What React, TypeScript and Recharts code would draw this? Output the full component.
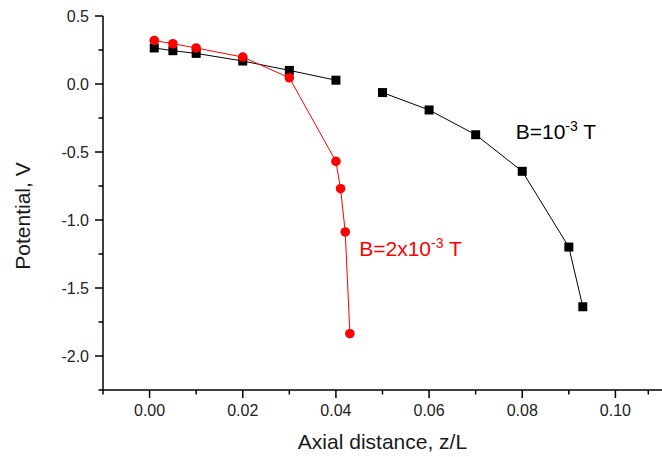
import { LineChart, Line, XAxis, YAxis, ReferenceDot } from 'recharts'

// B = 1e-3 T, split in two runs (no line between 0.04 and 0.05)
const blackNearZ = [0.001, 0.005, 0.01, 0.02, 0.03, 0.04]
const blackNearV = [0.265, 0.245, 0.225, 0.169, 0.1, 0.028]
const blackFarZ = [0.05, 0.06, 0.07, 0.08, 0.09, 0.093]
const blackFarV = [-0.063, -0.191, -0.373, -0.642, -1.199, -1.638]

// B = 2e-3 T
const redZ = [0.001, 0.005, 0.01, 0.02, 0.03, 0.04, 0.041, 0.042, 0.043]
const redV = [0.32, 0.296, 0.265, 0.198, 0.046, -0.569, -0.77, -1.088, -1.836]

const xTicks = [-0.01, 0, 0.01, 0.02, 0.03, 0.04, 0.05, 0.06, 0.07, 0.08, 0.09, 0.1, 0.11]
const yTicks = [-2.25, -2, -1.75, -1.5, -1.25, -1, -0.75, -0.5, -0.25, 0, 0.25, 0.5]

const FONT = 'Arial, "Liberation Sans", sans-serif'

const pairs = (z: number[], v: number[]) => z.map((x, i) => ({ z: x, v: v[i] }))

function XTick({ x, y, payload }: any) {
  const major = Math.round(payload.value * 100) % 2 === 0
  return (
    <g>
      <line x1={x} y1={y} x2={x} y2={y + (major ? 8 : 4.5)} stroke="#000" strokeWidth={1.5} />
      {major && (
        <text x={x} y={y + 26} textAnchor="middle" fontSize={16} fontFamily={FONT} fill="#222">
          {payload.value.toFixed(2)}
        </text>
      )}
    </g>
  )
}

function YTick({ x, y, payload }: any) {
  const major = Math.round(payload.value * 4) % 2 === 0
  return (
    <g>
      <line x1={x} y1={y} x2={x - (major ? 8 : 4.5)} y2={y} stroke="#000" strokeWidth={1.5} />
      {major && (
        <text x={x - 14} y={y + 5.5} textAnchor="end" fontSize={16} fontFamily={FONT} fill="#222">
          {payload.value.toFixed(1)}
        </text>
      )}
    </g>
  )
}

function Square({ cx, cy, index }: any) {
  return <rect key={index} x={cx - 4.5} y={cy - 4.5} width={9} height={9} fill="#000" />
}

export default function App() {
  return (
    <div style={{ position: 'absolute', left: 0, top: 0, background: '#fff' }}>
      <LineChart width={662} height={457} margin={{ top: 16, right: 0, bottom: 0, left: 0 }}>
        <XAxis
          type="number"
          dataKey="z"
          domain={[-0.01, 0.11]}
          ticks={xTicks}
          allowDataOverflow
          height={67}
          tickSize={0}
          tickMargin={0}
          tickLine={false}
          tick={<XTick />}
          axisLine={{ stroke: '#000', strokeWidth: 1.5 }}
          label={{
            content: ({ viewBox }: any) => (
              <text x={viewBox.x + viewBox.width / 2} y={viewBox.y + 59} textAnchor="middle" fontSize={21} fontFamily={FONT} fill="#1a1a1a">
                Axial distance, z/L
              </text>
            ),
          }}
        />
        <YAxis
          type="number"
          dataKey="v"
          domain={[-2.25, 0.5]}
          ticks={yTicks}
          allowDataOverflow
          width={103}
          tickSize={0}
          tickMargin={0}
          tickLine={false}
          tick={<YTick />}
          axisLine={{ stroke: '#000', strokeWidth: 1.5 }}
          label={{
            content: ({ viewBox }: any) => {
              const cx = viewBox.x + 30
              const cy = viewBox.y + viewBox.height / 2 + 13
              return (
                <text transform={`translate(${cx},${cy}) rotate(-90)`} textAnchor="middle" fontSize={21} fontFamily={FONT} fill="#1a1a1a">
                  Potential, V
                </text>
              )
            },
          }}
        />
        <Line data={pairs(blackNearZ, blackNearV)} dataKey="v" stroke="#000" strokeWidth={1} dot={<Square />} isAnimationActive={false} />
        <Line data={pairs(blackFarZ, blackFarV)} dataKey="v" stroke="#000" strokeWidth={1} dot={<Square />} isAnimationActive={false} />
        <Line
          data={pairs(redZ, redV)}
          dataKey="v"
          stroke="#ff0000"
          strokeWidth={1}
          dot={{ r: 4.8, fill: '#ff0000', stroke: 'none' }}
          isAnimationActive={false}
        />
        <ReferenceDot
          x={0.0786}
          y={-0.402}
          r={0}
          shape={({ cx, cy }: any) => (
            <text x={cx} y={cy} fontSize={21} fontFamily={FONT} fill="#000">
              B=10<tspan fontSize={14} dy={-8}>-3</tspan>
              <tspan dy={8}> T</tspan>
            </text>
          )}
        />
        <ReferenceDot
          x={0.045}
          y={-1.2625}
          r={0}
          shape={({ cx, cy }: any) => (
            <text x={cx} y={cy} fontSize={21} fontFamily={FONT} fill="#ff0000">
              B=2x10<tspan fontSize={14} dy={-8}>-3</tspan>
              <tspan dy={8}> T</tspan>
            </text>
          )}
        />
      </LineChart>
    </div>
  )
}
